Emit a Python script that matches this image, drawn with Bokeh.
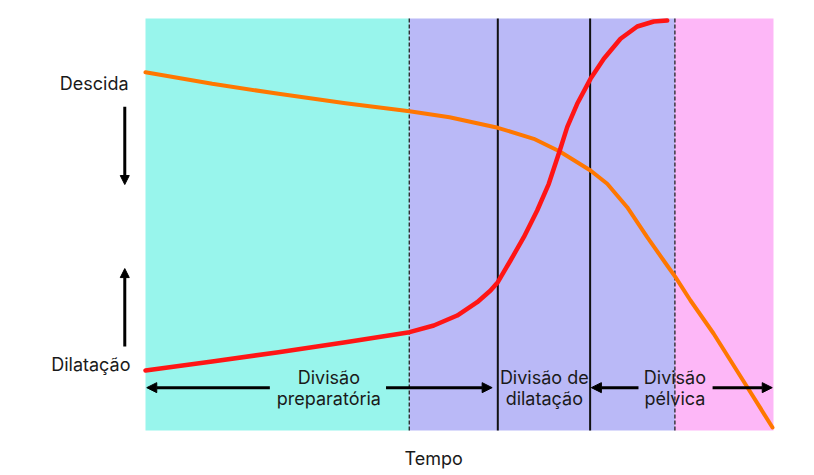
from bokeh.plotting import figure
from bokeh.models import Range1d, Arrow, NormalHead, ColumnDataSource
from bokeh.core.properties import value
from bokeh.embed import file_html
from bokeh.resources import INLINE

# Phase boundaries (time units 0..100)
phase_edges = [0, 42.0, 84.3, 100]
phase_colors = ["#98F5EC", "#BAB9F7", "#FDB7F7"]
dashed_lines = [42.0, 84.3]
solid_lines = [56.1, 70.8]

# Dilatação curve (red)
dil_x = [0, 10.62, 21.18, 31.85, 42.04, 45.91, 49.63, 52.82, 54.94, 56.10, 58.12,
         60.24, 62.37, 64.22, 65.97, 67.15, 68.74, 70.86, 72.98, 75.64, 78.30,
         80.94, 83.07]
dil_y = [14.56, 16.75, 19.00, 21.43, 23.86, 25.49, 27.91, 31.14, 33.98, 36.00, 41.26,
         46.92, 53.40, 59.88, 67.96, 73.62, 79.30, 85.36, 90.22, 95.07, 98.06,
         99.27, 99.51]

# Descida curve (orange)
des_x = [0, 10.62, 21.18, 31.85, 42.04, 48.41, 56.10, 61.83, 65.97, 70.86, 73.52,
         76.70, 79.89, 83.07, 84.39, 86.78, 90.45, 95.86, 99.84]
des_y = [86.97, 84.15, 81.72, 79.44, 77.50, 76.04, 73.47, 70.80, 67.72, 63.11, 59.88,
         54.20, 46.92, 40.05, 37.21, 31.55, 23.54, 10.44, 0.73]

phase_labels = ["Divisão\npreparatória", "Divisão de\ndilatação", "Divisão\npélvica"]
axis_labels = ["Descida", "Dilatação"]
x_title = "Tempo"

FONT = value("Inter")
TXT = "#1A1A1A"
FS = "18px"

W, H = 812, 473
p = figure(width=W, height=H, output_backend="svg", toolbar_location=None,
           x_range=Range1d(-145 / 6.28, (W - 145) / 6.28),
           y_range=Range1d((430 - H) / 4.12, 430 / 4.12),
           min_border=0)
p.axis.visible = False
p.grid.visible = False
p.outline_line_color = None
p.background_fill_color = "white"
p.border_fill_color = "white"

# Background phases
p.quad(left=phase_edges[:-1], right=phase_edges[1:], bottom=0, top=100,
       fill_color=phase_colors, line_color=None)

# Vertical separators
p.segment(x0=dashed_lines, x1=dashed_lines, y0=0, y1=100,
          line_color="#222222", line_width=1.3, line_dash="4 2")
p.segment(x0=solid_lines, x1=solid_lines, y0=0, y1=100,
          line_color="#111111", line_width=2)

# Curves
p.line(des_x, des_y, line_color="#FF7700", line_width=4, line_join="round", line_cap="round")
p.line(dil_x, dil_y, line_color="#FF1515", line_width=4.5, line_join="round", line_cap="round")

# Bottom phase arrows
arrow_y = 10.4
for xs, xe in [(19.8, 0.2), (38.3, 55.2), (78.5, 71.0), (90.3, 99.8)]:
    p.add_layout(Arrow(x_start=xs, y_start=arrow_y, x_end=xe, y_end=arrow_y,
                       line_width=3, line_color="black",
                       end=NormalHead(size=10, fill_color="black", line_color="black")))

# Phase labels
src = ColumnDataSource(dict(x=[29.2, 63.5, 84.3], y=[10.4, 10.4, 10.4], t=phase_labels))
p.text(x="x", y="y", text="t", source=src, text_font=FONT, text_font_size=FS,
       text_color=TXT, text_align="center", text_baseline="middle", text_line_height=1.0)

# Left indicators
p.text(x=[-2.7, -2.4], y=[84.2, 16.0], text=axis_labels, text_font=FONT,
       text_font_size=FS, text_color=TXT, text_align="right", text_baseline="middle")
p.add_layout(Arrow(x_start=-3.3, y_start=78.6, x_end=-3.3, y_end=59.7, line_width=3,
                   line_color="black",
                   end=NormalHead(size=9, fill_color="black", line_color="black")))
p.add_layout(Arrow(x_start=-3.3, y_start=20.4, x_end=-3.3, y_end=39.3, line_width=3,
                   line_color="black",
                   end=NormalHead(size=9, fill_color="black", line_color="black")))

# X title
p.text(x=[45.9], y=[-6.8], text=[x_title], text_font=FONT, text_font_size=FS,
       text_color=TXT, text_align="center", text_baseline="middle")

open("out.html", "w").write(file_html(p, INLINE))
